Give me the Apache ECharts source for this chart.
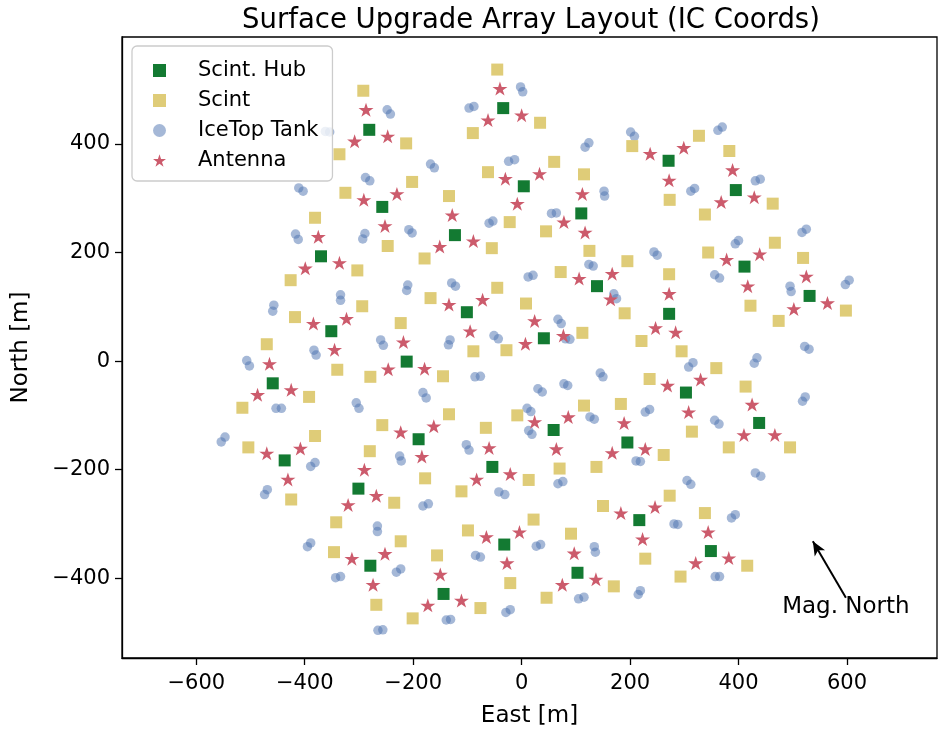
<!DOCTYPE html>
<html><head><meta charset="utf-8">
<script src="https://cdn.jsdelivr.net/npm/echarts@6/dist/echarts.min.js"></script>
<style>html,body{margin:0;padding:0;background:#fff}#c{width:938px;height:731px}</style>
</head><body><div id="c"></div>
<script>
// ---- data (East [m], North [m]) ----
const hubs = [[-34,466],[-281,426],[-257,284],[-123,232],[4,322],[110,272],[271,369],[395,315],[411,174],[531,120],[272,87],[139,138],[-101,90],[41,42],[-370,193],[-351,55],[-212,-1],[-459,-41],[303,-58],[438,-114],[59,-127],[195,-150],[-190,-144],[-437,-183],[-54,-195],[-301,-235],[217,-293],[-32,-338],[349,-350],[103,-390],[-279,-377],[-144,-429]];
const scints = [[-381,264],[-292,498],[-213,401],[-336,381],[-90,420],[-45,537],[-62,348],[-22,256],[-325,310],[-202,330],[-134,304],[-247,212],[-55,208],[34,439],[60,367],[115,344],[45,239],[125,203],[204,396],[327,415],[273,297],[338,270],[383,387],[344,200],[463,290],[467,218],[-426,149],[-418,81],[-470,31],[-392,-66],[-515,-86],[-381,-138],[-504,-159],[-340,-16],[-179,189],[-303,167],[-294,101],[-168,116],[-45,135],[8,106],[-223,70],[-89,18],[-28,20],[-279,-29],[-145,-28],[-134,-98],[-257,-118],[-66,-123],[-8,-100],[-280,-166],[195,184],[72,164],[272,160],[190,88],[112,52],[221,37],[295,18],[359,-13],[236,-33],[115,-82],[183,-79],[314,-130],[262,-173],[382,-159],[519,190],[422,102],[474,74],[598,93],[413,-47],[495,-159],[-425,-255],[-342,-297],[-346,-352],[-178,-216],[-111,-240],[-235,-261],[-223,-332],[-156,-358],[-99,-312],[13,-219],[22,-292],[-268,-449],[-201,-474],[-76,-455],[-21,-409],[70,-198],[138,-195],[273,-248],[150,-267],[338,-280],[91,-318],[228,-364],[293,-397],[170,-415],[46,-436],[416,-377]];
const tanks = [[-411,319],[-403,313],[-417,234],[-412,224],[-362,423],[-354,422],[-248,463],[-242,455],[-97,466],[-88,469],[-2,505],[2,496],[-288,338],[-280,332],[-168,363],[-161,356],[-24,368],[-13,371],[-289,235],[-293,225],[-208,242],[-202,236],[-60,254],[-53,258],[117,394],[124,402],[201,422],[208,414],[55,272],[64,273],[152,313],[153,304],[312,313],[319,318],[362,425],[370,431],[431,332],[440,335],[517,237],[525,243],[394,216],[400,222],[-457,103],[-459,92],[-507,1],[-502,-9],[-383,20],[-379,11],[-453,-87],[-443,-87],[-547,-140],[-554,-149],[-210,140],[-212,130],[-129,144],[-122,138],[-334,122],[-334,112],[-260,39],[-255,29],[-132,39],[-135,30],[-51,47],[-43,41],[-86,-29],[-76,-28],[-182,-58],[-176,-68],[-305,-77],[-300,-87],[-102,-154],[-97,-164],[-225,-175],[-222,-184],[10,-87],[17,-93],[13,-128],[19,-135],[12,155],[21,158],[244,201],[250,195],[124,178],[132,175],[356,159],[365,153],[170,124],[175,115],[67,77],[73,69],[81,41],[89,40],[308,-11],[316,-3],[145,-22],[150,-29],[30,-51],[38,-57],[78,-42],[85,-45],[228,-94],[236,-89],[126,-103],[134,-107],[356,-109],[364,-116],[495,138],[497,128],[597,141],[604,149],[522,27],[530,22],[429,-4],[434,6],[518,-74],[523,-66],[-389,-194],[-381,-187],[-474,-246],[-469,-237],[-395,-342],[-389,-335],[-343,-399],[-334,-397],[-182,-267],[-172,-263],[-42,-241],[-31,-246],[-266,-304],[-266,-314],[-231,-389],[-223,-383],[-85,-358],[-76,-361],[-265,-496],[-256,-495],[-139,-477],[-131,-476],[-29,-463],[-21,-458],[211,-184],[219,-185],[67,-226],[76,-222],[305,-220],[312,-227],[281,-300],[288,-301],[27,-341],[35,-338],[134,-342],[136,-352],[105,-438],[115,-435],[215,-430],[219,-423],[357,-397],[365,-397],[431,-206],[441,-212],[387,-289],[394,-283]];
const antennas = [[-40,502],[0,453],[-62,444],[-287,463],[-247,414],[-308,405],[-291,297],[-230,308],[-252,249],[-128,269],[-89,221],[-151,211],[-30,336],[33,345],[-8,290],[112,308],[78,256],[117,237],[237,382],[299,393],[272,333],[389,352],[368,293],[429,302],[378,187],[439,197],[417,138],[525,156],[502,96],[564,107],[272,124],[247,61],[284,53],[106,152],[167,161],[164,114],[-134,104],[-72,113],[-95,55],[24,74],[77,47],[7,32],[-375,229],[-399,171],[-336,181],[-384,69],[-323,78],[-345,21],[-218,35],[-246,-15],[-179,-14],[-465,-5],[-487,-62],[-425,-53],[269,-45],[330,-34],[308,-94],[425,-80],[410,-136],[467,-136],[24,-112],[86,-103],[64,-162],[189,-114],[167,-169],[228,-162],[-223,-131],[-162,-120],[-184,-176],[-470,-170],[-408,-161],[-431,-218],[-60,-160],[-83,-218],[-21,-208],[-290,-200],[-268,-248],[-320,-265],[183,-280],[246,-269],[223,-328],[-65,-324],[-4,-315],[-27,-372],[344,-315],[321,-372],[382,-363],[97,-354],[75,-412],[137,-402],[-252,-355],[-313,-364],[-274,-412],[-150,-393],[-173,-450],[-111,-441]];
const xTicks = [-600,-400,-200,0,200,400,600];
const yTicks = [-400,-200,0,200,400];
const xRange = [-737, 766];
const yRange = [-547, 597];
const arrowTail = [598,-436], arrowTip = [537,-332], noteAt = [598,-454];
const noteText = 'Mag. North';
const titleText = 'Surface Upgrade Array Layout (IC Coords)';

const FONT = 'DejaVu Sans';
const STAR = 'path://M0,-1 L0.2245,-0.309 L0.951,-0.309 L0.363,0.118 L0.588,0.809 L0,0.382 L-0.588,0.809 L-0.363,0.118 L-0.951,-0.309 L-0.2245,-0.309 Z';
const C_HUB = '#137a32', C_SCINT = '#dfcc78', C_TANK = '#4c72b0', C_ANT = '#cc5b6c';
const fmt = v => String(v).replace('-', '\u2212');

const chart = echarts.init(document.getElementById('c'), null, {renderer:'canvas'});
const option = {
  animation: false,
  backgroundColor: '#fff',
  title: {text: titleText, left: 526, textAlign: 'center', top: 2,
    textStyle: {fontFamily: FONT, fontSize: 27.5, fontWeight: 'normal', color: '#000'}},
  grid: {left: 122, top: 37, width: 815, height: 621, show: true, borderColor: '#000', borderWidth: 1.3,
    backgroundColor: 'transparent', outerBoundsMode: 'none', containLabel: false},
  legend: {
    orient: 'vertical', left: 132, top: 46,
    data: [
      {name: 'Scint. Hub', icon: 'rect'},
      {name: 'Scint', icon: 'rect'},
      {name: 'IceTop Tank', icon: 'circle'},
      {name: 'Antenna', icon: STAR}
    ],
    itemWidth: 13, itemHeight: 13, itemGap: 9,
    padding: [14, 14, 10, 21],
    backgroundColor: 'rgba(255,255,255,0.8)',
    borderColor: '#cccccc', borderWidth: 1.3, borderRadius: 5,
    textStyle: {fontFamily: FONT, fontSize: 21, color: '#000', padding: [0,0,0,27], lineHeight: 16}
  },
  xAxis: {
    type: 'value', min: xRange[0], max: xRange[1],
    name: 'East [m]', nameLocation: 'middle', nameGap: 47,
    nameTextStyle: {fontFamily: FONT, fontSize: 23, color: '#000'},
    axisLine: {show: true, onZero: false, lineStyle: {color: '#000', width: 1.3}},
    axisTick: {show: true, inside: false, length: 7, lineStyle: {color: '#000', width: 1.3}, customValues: xTicks},
    axisLabel: {customValues: xTicks, formatter: fmt, margin: 15, fontFamily: FONT, fontSize: 21, color: '#000'},
    splitLine: {show: false}
  },
  yAxis: {
    type: 'value', min: yRange[0], max: yRange[1],
    name: 'North [m]', nameLocation: 'middle', nameGap: 89, nameRotate: 90,
    nameTextStyle: {fontFamily: FONT, fontSize: 23, color: '#000'},
    axisLine: {show: true, onZero: false, lineStyle: {color: '#000', width: 1.3}},
    axisTick: {show: true, inside: false, length: 7, lineStyle: {color: '#000', width: 1.3}, customValues: yTicks},
    axisLabel: {customValues: yTicks, formatter: fmt, margin: 12, fontFamily: FONT, fontSize: 21, color: '#000'},
    splitLine: {show: false}
  },
  series: [
    {name: 'Scint. Hub', type: 'scatter', symbol: 'rect', symbolSize: 12, z: 4,
      itemStyle: {color: C_HUB, opacity: 1}, data: hubs},
    {name: 'Scint', type: 'scatter', symbol: 'rect', symbolSize: 12, z: 3,
      itemStyle: {color: C_SCINT, opacity: 1}, data: scints},
    {name: 'IceTop Tank', type: 'scatter', symbol: 'circle', symbolSize: 9.5, z: 2,
      itemStyle: {color: C_TANK, opacity: 0.5}, data: tanks},
    {name: 'Antenna', type: 'scatter', symbol: STAR, symbolSize: [15, 14], z: 5,
      itemStyle: {color: C_ANT, opacity: 1}, data: antennas},
    {name: 'arrow', type: 'scatter', symbolSize: 0, silent: true, z: 6, data: [],
      markLine: {silent: true, symbol: ['none', 'arrow'], symbolSize: [9, 14],
        label: {show: false}, lineStyle: {color: '#000', width: 2, type: 'solid', opacity: 1},
        data: [[{coord: arrowTail}, {coord: arrowTip}]]}
    }
  ]
};
chart.setOption(option);
const p = chart.convertToPixel({gridIndex: 0}, noteAt);
chart.setOption({graphic: [{type: 'text', x: p[0], y: p[1], z: 10, silent: true,
  style: {text: noteText, fontFamily: FONT, fontSize: 23, fill: '#000', align: 'center', verticalAlign: 'middle'}}]});
</script></body></html>
